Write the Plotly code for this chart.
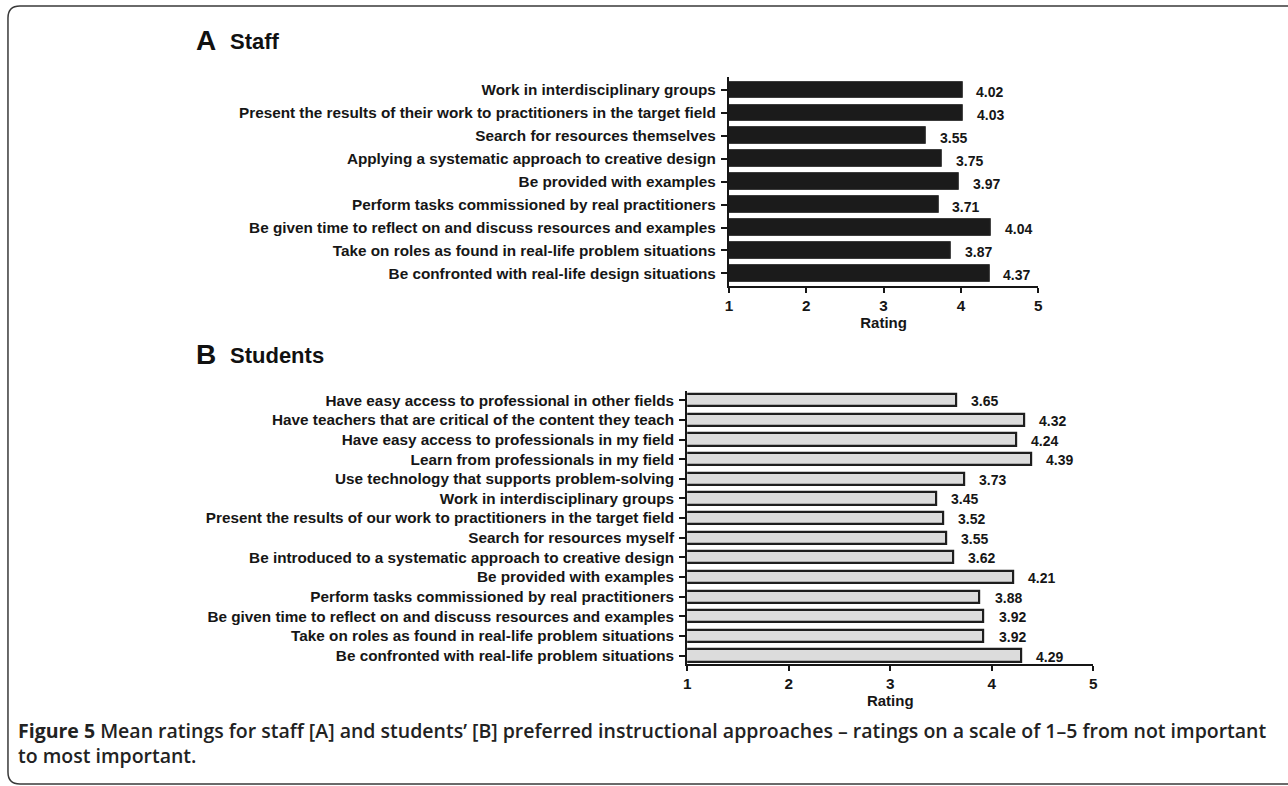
import plotly.graph_objects as go

# ---------------- data ----------------
staff_items = [
    "Work in interdisciplinary groups",
    "Present the results of their work to practitioners in the target field",
    "Search for resources themselves",
    "Applying a systematic approach to creative design",
    "Be provided with examples",
    "Perform tasks commissioned by real practitioners",
    "Be given time to reflect on and discuss resources and examples",
    "Take on roles as found in real-life problem situations",
    "Be confronted with real-life design situations",
]
# bar lengths as drawn in the figure
staff_bar = [4.02, 4.03, 3.55, 3.75, 3.97, 3.71, 4.39, 3.87, 4.37]
# value labels as printed in the figure
staff_labels = ["4.02", "4.03", "3.55", "3.75", "3.97", "3.71", "4.04", "3.87", "4.37"]

student_items = [
    "Have easy access to professional in other fields",
    "Have teachers that are critical of the content they teach",
    "Have easy access to professionals in my field",
    "Learn from professionals in my field",
    "Use technology that supports problem-solving",
    "Work in interdisciplinary groups",
    "Present the results of our work to practitioners in the target field",
    "Search for resources myself",
    "Be introduced to a systematic approach to creative design",
    "Be provided with examples",
    "Perform tasks commissioned by real practitioners",
    "Be given time to reflect on and discuss resources and examples",
    "Take on roles as found in real-life problem situations",
    "Be confronted with real-life problem situations",
]
student_bar = [3.65, 4.32, 4.24, 4.39, 3.73, 3.45, 3.52, 3.55, 3.62, 4.21, 3.88, 3.92, 3.92, 4.29]
student_labels = ["3.65", "4.32", "4.24", "4.39", "3.73", "3.45", "3.52", "3.55",
                  "3.62", "4.21", "3.88", "3.92", "3.92", "4.29"]

x_ticks = [1, 2, 3, 4, 5]
axis_title = "Rating"
caption_1 = ("<b>Figure 5</b> Mean ratings for staff [A] and students\u2019 [B] preferred instructional "
             "approaches \u2013 ratings on a scale of 1\u20135 from not important")
caption_2 = "to most important."

# ---------------- layout helpers ----------------
W, H = 1288, 786
def px(x):
    return x / W
def py(y):
    return 1 - y / H

FONT = "Liberation Sans, Arial, Helvetica, sans-serif"
INK = "#161616"

fig = go.Figure()
fig.add_trace(go.Bar(
    y=staff_items, x=staff_bar, orientation="h", xaxis="x", yaxis="y",
    width=0.72,
    marker=dict(color="#1b1b1b", line=dict(color="#3c3c3c", width=1)),
    hoverinfo="x+y", showlegend=False,
))
fig.add_trace(go.Bar(
    y=student_items, x=student_bar, orientation="h", xaxis="x2", yaxis="y2",
    width=0.62,
    marker=dict(color="#dcdcdc", line=dict(color="#1e1e1e", width=2.2)),
    hoverinfo="x+y", showlegend=False,
))

tickfont = dict(family=FONT, size=15.3, color=INK, weight="bold")

def xaxis_cfg(x0, x1, anchor):
    return dict(
        domain=[px(x0), px(x1)], anchor=anchor, range=[1, 5],
        tickvals=x_ticks, ticktext=[str(t) for t in x_ticks],
        showline=True, linewidth=2, linecolor=INK, mirror=False,
        ticks="outside", ticklen=5, tickwidth=2, tickcolor=INK,
        showgrid=False, zeroline=False, tickfont=tickfont,
        title=dict(text=axis_title, font=dict(family=FONT, size=15, color=INK, weight="bold"),
                   standoff=3),
        fixedrange=True,
    )

def yaxis_cfg(y_top, y_bot, anchor, n, pad_top, pad_bot):
    return dict(
        domain=[py(y_bot), py(y_top)], anchor=anchor, type="category",
        range=[n - 1 + pad_bot, -pad_top],
        showline=True, linewidth=2, linecolor=INK,
        ticks="outside", ticklen=6, tickwidth=2, tickcolor=INK,
        showgrid=False, zeroline=False, tickfont=tickfont, ticklabelstandoff=2,
        fixedrange=True,
    )

fig.update_layout(
    width=W, height=H,
    margin=dict(l=0, r=0, t=0, b=0),
    paper_bgcolor="white", plot_bgcolor="white",
    bargap=0,
    xaxis=xaxis_cfg(730, 1041.5, "y"),
    yaxis=yaxis_cfg(77, 286, "x", len(staff_items), 0.56, 0.55),
    xaxis2=xaxis_cfg(688, 1097, "y2"),
    yaxis2=yaxis_cfg(391, 664, "x2", len(student_items), 0.47, 0.43),
)

annotations = []
valfont = dict(family=FONT, size=14, color=INK, weight="bold")
for item, v, lab in zip(staff_items, staff_bar, staff_labels):
    annotations.append(dict(x=v, y=item, xref="x", yref="y", text=lab, showarrow=False,
                            xanchor="left", yanchor="middle", xshift=12, yshift=-2, font=valfont))
for item, v, lab in zip(student_items, student_bar, student_labels):
    annotations.append(dict(x=v, y=item, xref="x2", yref="y2", text=lab, showarrow=False,
                            xanchor="left", yanchor="middle", xshift=13, yshift=-1, font=valfont))

# panel headings
for letter, title, yc in [("A", "Staff", 41), ("B", "Students", 355)]:
    annotations.append(dict(x=px(191), y=py(yc), xref="paper", yref="paper", text=letter,
                            showarrow=False, xanchor="left", yanchor="middle",
                            font=dict(family=FONT, size=28, color="#111", weight="bold")))
    annotations.append(dict(x=px(226), y=py(yc + 1), xref="paper", yref="paper", text=title,
                            showarrow=False, xanchor="left", yanchor="middle",
                            font=dict(family=FONT, size=22, color="#111", weight="bold")))

# caption
capfont = dict(family="Open Sans, Noto Sans, sans-serif", size=19.5, color="#222", weight=600)
annotations.append(dict(x=px(12), y=py(730), xref="paper", yref="paper", text=caption_1,
                        showarrow=False, xanchor="left", yanchor="middle", font=capfont))
annotations.append(dict(x=px(12), y=py(755), xref="paper", yref="paper", text=caption_2,
                        showarrow=False, xanchor="left", yanchor="middle", font=capfont))
fig.update_layout(annotations=annotations)

# rounded outer frame (right side runs off the page)
L, T, B, R, r = 4, 6, 784, 1310, 12
path = (f"M {px(R)},{py(T)} L {px(L + r)},{py(T)} Q {px(L)},{py(T)} {px(L)},{py(T + r)} "
        f"L {px(L)},{py(B - r)} Q {px(L)},{py(B)} {px(L + r)},{py(B)} L {px(R)},{py(B)}")
fig.add_shape(type="path", path=path, xref="paper", yref="paper",
              line=dict(color="#3a3a3a", width=1.5))

fig.write_html("out.html", config={"displayModeBar": False},
               post_script="document.body.style.margin='0';document.body.style.overflow='hidden';")
